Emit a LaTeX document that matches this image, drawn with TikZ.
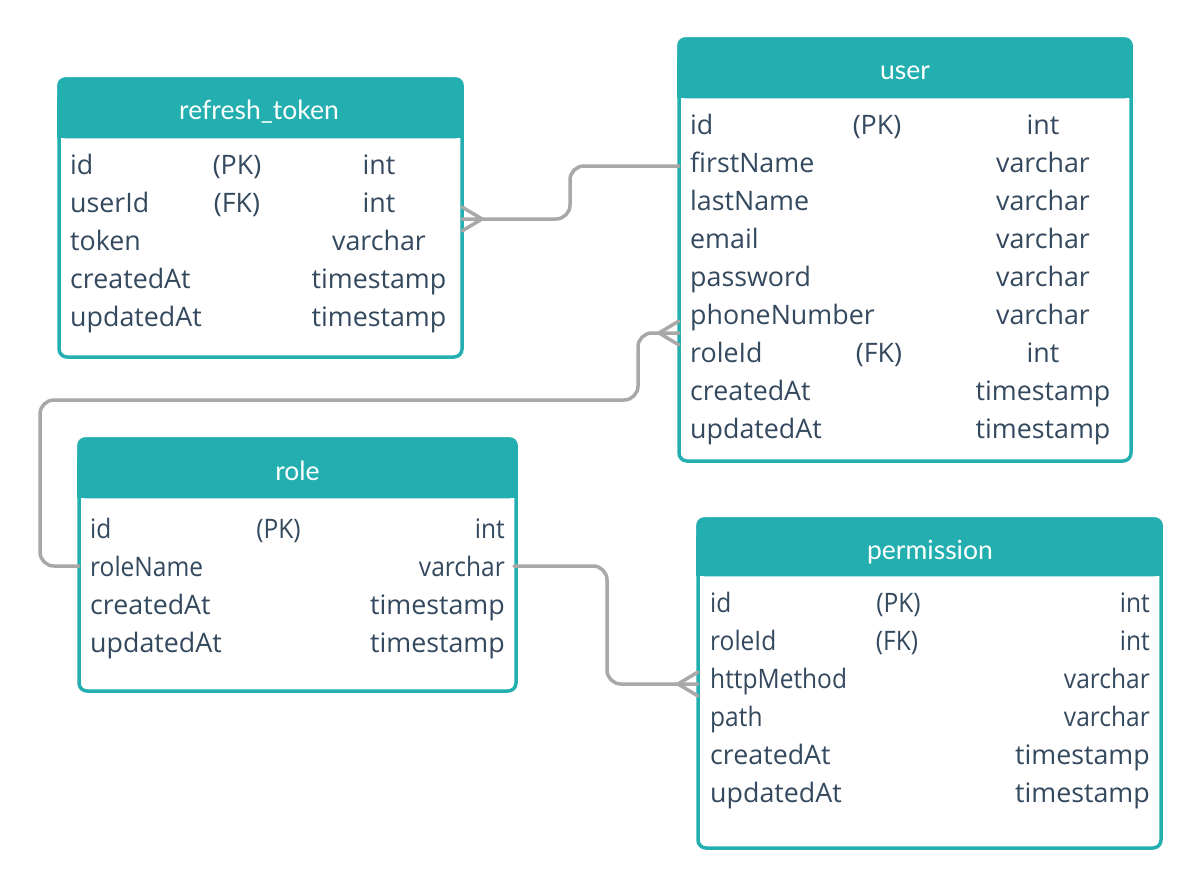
\documentclass[tikz,border=0pt]{standalone}
\usepackage{graphicx}
\usepackage{fontspec}
\setmainfont{Open Sans}
\newfontfamily\latof{Lato}
\definecolor{tealc}{HTML}{23AFAF}
\definecolor{txtc}{HTML}{34495E}
\definecolor{connc}{HTML}{A8A8A8}
\tikzset{
  tbl/.style={draw=tealc, line width=3.5pt, fill=white, rounded corners=8pt, inner sep=0pt},
  headtxt/.style={font=\latof\fontsize{26.5}{30}\selectfont, text=white, inner sep=0pt, anchor=base},
  fld/.style={font=\fontsize{26.8}{32}\selectfont, text=txtc, inner sep=0pt},
  conn/.style={draw=connc, line width=3.5pt, rounded corners=14pt, line cap=round, line join=round},
  foot/.style={draw=connc, line width=3.5pt, line cap=round}
}
\newcommand{\sq}[1]{\scalebox{0.915}[1]{#1}}
\newcommand{\hdr}[2]{% node, height
  \fill[tealc, rounded corners=8pt] (#1.north west) rectangle ([yshift=-#2pt]#1.north east);
  \fill[tealc] ([yshift=-20pt]#1.north west) rectangle ([yshift=-#2pt]#1.north east);
}
\newcommand{\erow}[9]{%
  \node[fld, anchor=base west] (#1f) at (#3,#2+10) {#4};
  \node[fld, anchor=base] (#1k) at (#5,#2+10) {#6};
  \node[fld, anchor=#7] (#1t) at (#8,#2+10) {#9};
}
\newcommand{\erowb}[7]{%
  \node[fld, anchor=base west] (#1f) at (#3,#2+10) {#4};
  \node[fld, anchor=#5] (#1t) at (#6,#2+10) {#7};
}
\begin{document}
\begin{tikzpicture}[x=1pt,y=-1pt]
\useasboundingbox[fill=white] (0,0) rectangle (1200,889);

% refresh_token
\node[tbl, minimum width=403pt, minimum height=278pt] (rt) at (260.5,218) {};
\hdr{rt}{61}
\node[headtxt] (rth) at (259,119) {refresh\_token};
\erow{rtA}{164}{70}{id}{237}{(PK)}{base}{379}{int}
\erow{rtB}{202}{70}{userId}{237}{(FK)}{base}{379}{int}
\erowb{rtC}{240}{70}{token}{base}{379}{varchar}
\erowb{rtD}{278}{70}{createdAt}{base}{379}{timestamp}
\erowb{rtE}{316}{70}{updatedAt}{base}{379}{timestamp}

% user
\node[tbl, minimum width=452pt, minimum height=422pt] (us) at (905,250) {};
\hdr{us}{61}
\node[headtxt] (ush) at (905,79) {user};
\erow{usA}{124}{690}{id}{877}{(PK)}{base}{1043}{int}
\erowb{usB}{162}{690}{firstName}{base}{1043}{varchar}
\erowb{usC}{200}{690}{lastName}{base}{1043}{varchar}
\erowb{usD}{238}{690}{email}{base}{1043}{varchar}
\erowb{usE}{276}{690}{password}{base}{1043}{varchar}
\erowb{usF}{314}{690}{phoneNumber}{base}{1043}{varchar}
\erow{usG}{352}{690}{roleId}{879}{(FK)}{base}{1043}{int}
\erowb{usH}{390}{690}{createdAt}{base}{1043}{timestamp}
\erowb{usI}{428}{690}{updatedAt}{base}{1043}{timestamp}

% role
\node[tbl, minimum width=437pt, minimum height=252pt] (ro) at (297.5,565) {};
\hdr{ro}{61}
\node[headtxt] (roh) at (297.5,480) {role};
\erow{roA}{528}{90}{\sq{id}}{278.5}{\sq{(PK)}}{base east}{505}{\sq{int}}
\erowb{roB}{566}{90}{\sq{roleName}}{base east}{505}{\sq{varchar}}
\erowb{roC}{604}{90}{createdAt}{base east}{505}{timestamp}
\erowb{roD}{642}{90}{updatedAt}{base east}{505}{timestamp}

% permission
\node[tbl, minimum width=463pt, minimum height=329pt] (pe) at (929.5,683.5) {};
\hdr{pe}{59}
\node[headtxt] (peh) at (930,559) {permission};
\erow{peA}{602}{710}{\sq{id}}{898.5}{\sq{(PK)}}{base east}{1150}{\sq{int}}
\erow{peB}{640}{710}{\sq{roleId}}{897}{\sq{(FK)}}{base east}{1150}{\sq{int}}
\erowb{peC}{678}{710}{\sq{httpMethod}}{base east}{1150}{\sq{varchar}}
\erowb{peD}{716}{710}{\sq{path}}{base east}{1150}{\sq{varchar}}
\erowb{peE}{754}{710}{createdAt}{base east}{1150}{timestamp}
\erowb{peF}{792}{710}{updatedAt}{base east}{1150}{timestamp}

% connector user.firstName -> refresh_token.userId
\coordinate (c1s) at (679,166);
\coordinate (c1a) at (570,166);
\coordinate (c1b) at (570,219);
\coordinate (c1e) at (462,219);
\draw[conn] (c1s) -- (c1a) -- (c1b) -- (c1e);
\draw[foot] ([xshift=20pt]c1e) -- ([yshift=12pt]c1e) ([xshift=20pt]c1e) -- ([yshift=-12pt]c1e);

% connector role.roleName -> user.roleId
\coordinate (c2s) at (79,566);
\coordinate (c2a) at (40,566);
\coordinate (c2b) at (40,400);
\coordinate (c2c) at (638,400);
\coordinate (c2d) at (638,333);
\coordinate (c2e) at (679,333);
\draw[conn] (c2s) -- (c2a) -- (c2b) -- (c2c) -- (c2d) -- (c2e);
\draw[foot] ([xshift=-20pt]c2e) -- ([yshift=12pt]c2e) ([xshift=-20pt]c2e) -- ([yshift=-12pt]c2e);

% connector role.roleName -> permission.roleId
\coordinate (c3s) at (514,566);
\coordinate (c3a) at (607,566);
\coordinate (c3b) at (607,684);
\coordinate (c3e) at (698,684);
\draw[conn] (c3s) -- (c3a) -- (c3b) -- (c3e);
\draw[foot] ([xshift=-20pt]c3e) -- ([yshift=12pt]c3e) ([xshift=-20pt]c3e) -- ([yshift=-12pt]c3e);
\end{tikzpicture}
\end{document}
